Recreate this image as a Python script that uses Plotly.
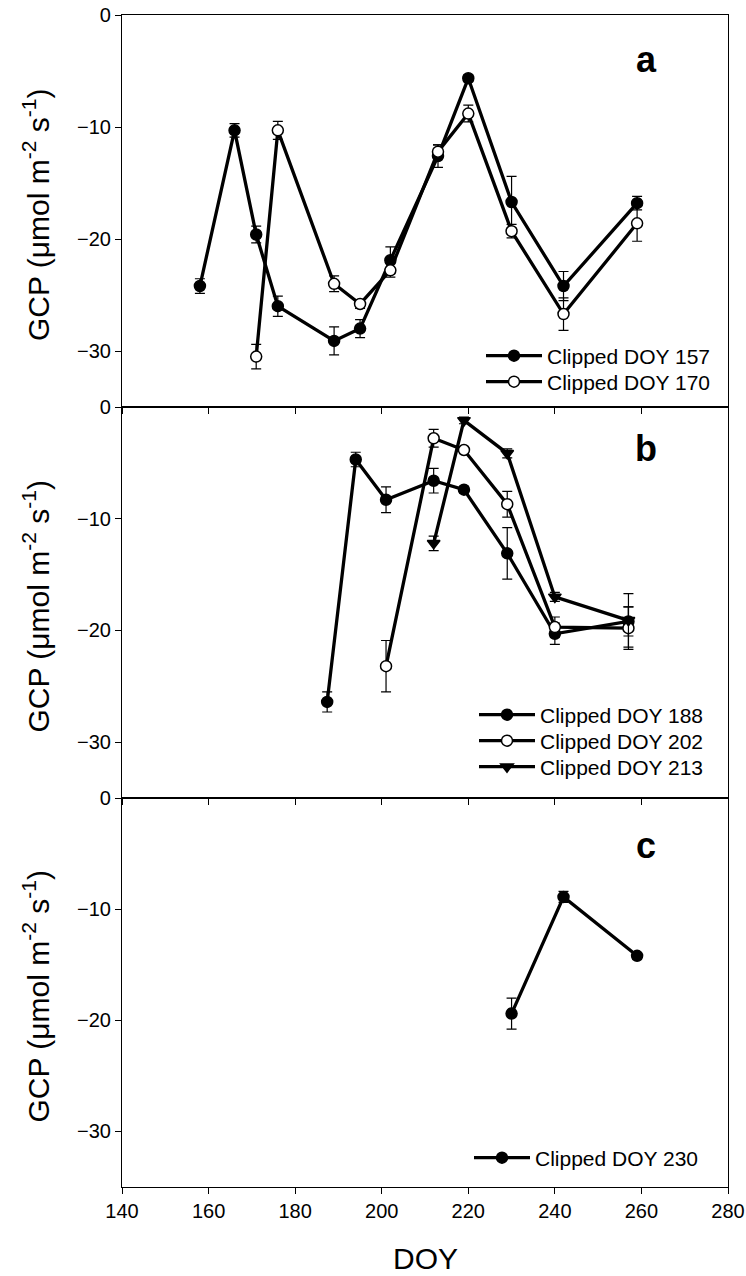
import plotly.graph_objects as go
from plotly.subplots import make_subplots

# Panel a
doy_a157 = [158, 166, 171, 176, 189, 195, 202, 213, 220, 230, 242, 259]
gcp_a157 = [-24.2, -10.3, -19.6, -26.0, -29.1, -28.0, -21.9, -12.6, -5.65, -16.7, -24.2, -16.8]
err_a157 = [0.65, 0.6, 0.75, 0.9, 1.25, 0.8, 1.2, 1.0, 0.3, 2.3, 1.3, 0.6]
doy_a170 = [171, 176, 189, 195, 202, 213, 220, 230, 242, 259]
gcp_a170 = [-30.5, -10.3, -24.0, -25.8, -22.8, -12.2, -8.8, -19.3, -26.7, -18.6]
err_a170 = [1.1, 0.8, 0.7, 0.4, 0.6, 0.6, 0.75, 0.6, 1.45, 1.6]

# Panel b
doy_b188 = [187.4, 194, 201, 212, 219, 229, 240, 257]
gcp_b188 = [-26.4, -4.7, -8.3, -6.6, -7.4, -13.1, -20.3, -19.2]
err_b188 = [0.9, 0.65, 1.15, 1.1, 0.3, 2.3, 0.95, 1.3]
doy_b202 = [201, 212, 219, 229, 240, 257]
gcp_b202 = [-23.2, -2.8, -3.85, -8.7, -19.7, -19.8]
err_b202 = [2.3, 0.8, 0.3, 1.15, 0.9, 1.9]
doy_b213 = [212, 219, 229, 240, 257]
gcp_b213 = [-12.2, -1.2, -4.15, -17.0, -19.1]
err_b213 = [0.65, 0.3, 0.4, 0.4, 2.4]

# Panel c
doy_c230 = [230, 242, 259]
gcp_c230 = [-19.4, -8.9, -14.2]
err_c230 = [1.4, 0.5, 0.3]

x_ticks = [140, 160, 180, 200, 220, 240, 260, 280]
y_ticks = [0, -10, -20, -30]

FONT = "Liberation Sans, Arial, sans-serif"

L, R, T, B = 122, 18, 15, 89
H = 1276 - T - B
W = 746 - L - R


def yfrac(py):
    return (1187 - py) / H


def xfrac(px):
    return (px - L) / W


fig = make_subplots(rows=3, cols=1, vertical_spacing=0)

# (legend x start px, row centre px)
legend_pos = {
    "legend": (481, 356), "legend2": (481, 382),
    "legend3": (474, 715), "legend4": (474, 741), "legend5": (474, 767),
    "legend6": (469, 1158),
}


def add(x, y, e, name, symbol, fill, row, legend):
    fig.add_trace(go.Scatter(
        x=x, y=y, name=name, mode="lines+markers",
        line=dict(color="black", width=3.3),
        marker=dict(symbol=symbol, size=11, color=fill,
                    line=dict(color="black", width=1.5)),
        error_y=dict(type="data", array=e, visible=True, color="black",
                     thickness=1.2, width=5),
        legend=legend, cliponaxis=False, showlegend=True,
    ), row=row, col=1)


add(doy_a157, gcp_a157, err_a157, "Clipped DOY 157", "circle", "black", 1, "legend")
add(doy_a170, gcp_a170, err_a170, "Clipped DOY 170", "circle", "white", 1, "legend2")
add(doy_b188, gcp_b188, err_b188, "Clipped DOY 188", "circle", "black", 2, "legend3")
add(doy_b202, gcp_b202, err_b202, "Clipped DOY 202", "circle", "white", 2, "legend4")
add(doy_b213, gcp_b213, err_b213, "Clipped DOY 213", "triangle-down", "black", 2, "legend5")
add(doy_c230, gcp_c230, err_c230, "Clipped DOY 230", "circle", "black", 3, "legend6")

doms = [(yfrac(407), 1.0), (yfrac(798), yfrac(407)), (0.0, yfrac(798))]

for i in range(3):
    sfx = "" if i == 0 else str(i + 1)
    fig.layout["xaxis" + sfx].update(
        range=[140, 280], tickvals=x_ticks, showticklabels=(i == 2),
        ticks="outside", ticklen=6, tickwidth=1, tickcolor="black",
        showline=True, linecolor="black", linewidth=1.2, mirror=True,
        showgrid=False, zeroline=False, automargin=False,
        tickfont=dict(family=FONT, size=20, color="black"),
    )
    fig.layout["yaxis" + sfx].update(
        range=[-35, 0], tickvals=y_ticks, domain=list(doms[i]),
        ticks="outside", ticklen=6, tickwidth=1, tickcolor="black",
        showline=True, linecolor="black", linewidth=1.2, mirror=True,
        showgrid=False, zeroline=False, automargin=False,
        tickfont=dict(family=FONT, size=20, color="black"),
    )

legends = {}
for key, (px, py) in legend_pos.items():
    legends[key] = dict(
        x=xfrac(px), y=yfrac(py), xanchor="left", yanchor="middle",
        bgcolor="rgba(0,0,0,0)", borderwidth=0, itemwidth=56, visible=True,
        font=dict(family=FONT, size=21, color="black"))
fig.update_layout(showlegend=True, **legends)

annotations = []
for i, letter in enumerate(["a", "b", "c"]):
    sfx = "" if i == 0 else str(i + 1)
    cy = [60, 448, 845][i]
    annotations.append(dict(
        text="<b>%s</b>" % letter, xref="paper", yref="paper",
        x=xfrac(646), y=yfrac(cy), xanchor="center", yanchor="middle",
        showarrow=False, font=dict(family=FONT, size=36, color="black")))
    annotations.append(dict(
        text="GCP (μmol m<sup>-2</sup> s<sup>-1</sup>)", textangle=-90,
        xref="paper", yref="y%s domain" % sfx, x=0, y=0.5, yshift=-4,
        xshift=-(L - 36), xanchor="center", yanchor="middle",
        showarrow=False, font=dict(family=FONT, size=30, color="black")))
annotations.append(dict(
    text="DOY", xref="paper", yref="paper", x=0.5, y=0, yshift=-(1258 - 1187),
    xanchor="center", yanchor="middle", showarrow=False,
    font=dict(family=FONT, size=30, color="black")))

fig.update_layout(
    width=746, height=1276,
    margin=dict(l=L, r=R, t=T, b=B, autoexpand=False),
    paper_bgcolor="white", plot_bgcolor="white",
    annotations=annotations,
    font=dict(family=FONT, color="black"),
)

fig.write_html("out.html")
